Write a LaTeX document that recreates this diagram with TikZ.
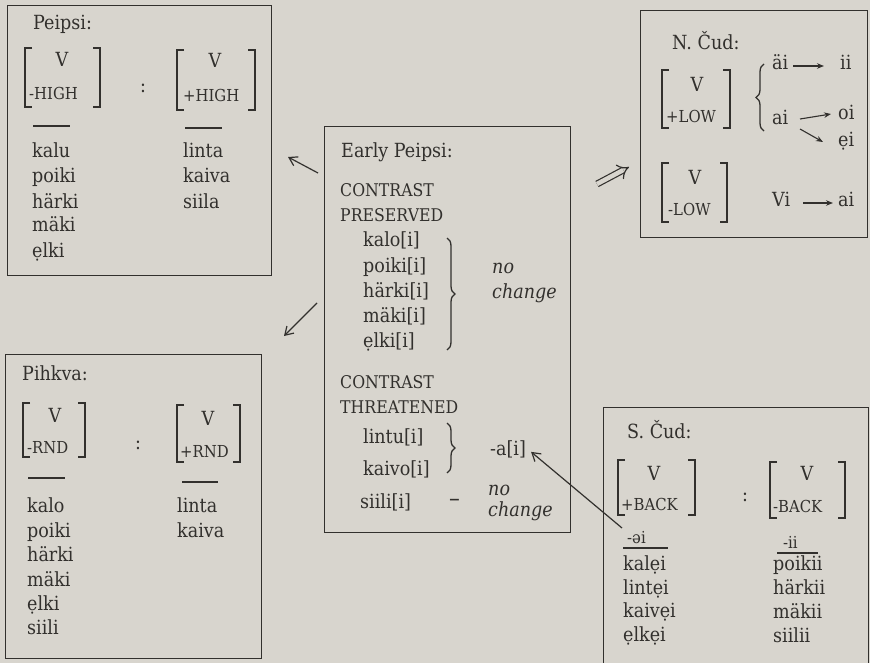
\documentclass[tikz,border=0pt]{standalone}
\usepackage{fontspec}
\setmainfont{DejaVu Serif}[FakeStretch=0.9]
\usetikzlibrary{arrows.meta,decorations.pathreplacing,calc}
\definecolor{paper}{RGB}{216,213,206}
\definecolor{ink}{RGB}{50,48,45}
\newcommand{\ed}{ẹ}
\tikzset{
  wd/.style={anchor=base west, inner sep=0pt, text=ink, font=\fontsize{19.5}{24}\selectfont},
  capt/.style={anchor=base west, inner sep=0pt, text=ink, font=\fontsize{17.5}{20}\selectfont},
  feat/.style={anchor=base west, inner sep=0pt, text=ink, font=\fontsize{16.5}{20}\selectfont},
  vv/.style={anchor=base, inner sep=0pt, text=ink, font=\fontsize{19.5}{24}\selectfont},
  itx/.style={anchor=base west, inner sep=0pt, text=ink, font=\fontsize{19.5}{24}\selectfont\itshape},
  box/.style={draw=ink, line width=1.3pt, anchor=north west, inner sep=0pt},
  brk/.style={draw=ink, line width=1.5pt},
  bar/.style={draw=ink, line width=1.4pt},
  arr/.style={draw=ink, line width=1.2pt, -{Straight Barb[length=8pt,width=10pt]}},
  sarr/.style={draw=ink, line width=1.1pt, -{Stealth[length=7pt,width=5.5pt]}},
  brc/.style={draw=ink, line width=1.3pt, decorate, decoration={brace, amplitude=8pt}}
}
\begin{document}
\begin{tikzpicture}[x=1pt, y=-1pt]
\useasboundingbox (0,0) rectangle (870,663);
\fill[paper] (0,0) rectangle (870,663);
\clip (0,0) rectangle (870,663);

% ---------- boxes ----------
\node[box, minimum width=264pt, minimum height=270pt] (peipsi) at (7,5) {};
\node[box, minimum width=227pt, minimum height=227pt] (nchud) at (640,10) {};
\node[box, minimum width=246pt, minimum height=406pt] (early) at (324,126) {};
\node[box, minimum width=256pt, minimum height=304pt] (pihkva) at (5,354) {};
\node[box, minimum width=265pt, minimum height=300pt] (schud) at (603,407) {};

% ---------- Peipsi ----------
\node[wd] (p-title) at (33,30) {Peipsi:};
\draw[brk] (32,48) -- (25,48) -- (25,107) -- (32,107);
\draw[brk] (93,48) -- (100,48) -- (100,107) -- (93,107);
\node[vv] (p-v1) at (62,67) {V};
\node[feat] (p-f1) at (29,100) {-HIGH};
\node[vv] (p-colon) at (143,93) {:};
\draw[brk] (184,50) -- (177,50) -- (177,110) -- (184,110);
\draw[brk] (248,50) -- (255,50) -- (255,110) -- (248,110);
\node[vv] (p-v2) at (215,68) {V};
\node[feat] (p-f2) at (183,102) {+HIGH};
\draw[bar] (33,126) -- (70,126);
\draw[bar] (185,128) -- (222,128);
\node[wd] (p-l1) at (32,158) {kalu};
\node[wd] (p-l2) at (32,183) {poiki};
\node[wd] (p-l3) at (32,208) {härki};
\node[wd] (p-l4) at (32,232) {mäki};
\node[wd] (p-l5) at (32,257) {\ed lki};
\node[wd] (p-r1) at (183,158) {linta};
\node[wd] (p-r2) at (183,183) {kaiva};
\node[wd] (p-r3) at (183,208) {siila};

% ---------- N. Cud ----------
\node[wd] (n-title) at (672,50) {N. Čud:};
\draw[brk] (669,70) -- (662,70) -- (662,128) -- (669,128);
\draw[brk] (723,70) -- (730,70) -- (730,128) -- (723,128);
\node[vv] (n-v1) at (697,92) {V};
\node[feat] (n-f1) at (666,123) {+LOW};
\draw[brc] (764,131) -- (764,64);
\node[wd] (n-a1) at (772,70) {äi};
\node[wd] (n-b1) at (840,70) {ii};
\node[wd] (n-a2) at (772,125) {ai};
\node[wd] (n-b2) at (838,120) {oi};
\node[wd] (n-b3) at (838,147) {\ed i};
\coordinate (n-s1) at (793,66);
\coordinate (n-e1) at (824,66);
\draw[sarr] (n-s1) -- (n-e1);
\coordinate (n-s2) at (800,119);
\coordinate (n-e2) at (831,114);
\draw[sarr] (n-s2) -- (n-e2);
\coordinate (n-s3) at (800,129);
\coordinate (n-e3) at (823,142);
\draw[sarr] (n-s3) -- (n-e3);
\draw[brk] (669,163) -- (662,163) -- (662,222) -- (669,222);
\draw[brk] (720,163) -- (727,163) -- (727,222) -- (720,222);
\node[vv] (n-v2) at (695,185) {V};
\node[feat] (n-f2) at (668,215) {-LOW};
\node[wd] (n-c1) at (772,207) {Vi};
\node[wd] (n-c2) at (838,207) {ai};
\coordinate (n-s4) at (803,203);
\coordinate (n-e4) at (833,203);
\draw[sarr] (n-s4) -- (n-e4);

% ---------- Early Peipsi ----------
\node[wd] (e-title) at (341,158) {Early Peipsi:};
\node[capt] (e-c1) at (340,197) {CONTRAST};
\node[capt] (e-c2) at (340,222) {PRESERVED};
\node[wd] (e-w1) at (363,247) {kalo[i]};
\node[wd] (e-w2) at (363,272) {poiki[i]};
\node[wd] (e-w3) at (363,297) {härki[i]};
\node[wd] (e-w4) at (363,322) {mäki[i]};
\node[wd] (e-w5) at (363,347) {\ed lki[i]};
\draw[brc] (447,238) -- (447,350);
\node[itx] (e-nc1) at (492,273) {no};
\node[itx] (e-nc2) at (492,298) {change};
\node[capt] (e-c3) at (340,388) {CONTRAST};
\node[capt] (e-c4) at (340,413) {THREATENED};
\node[wd] (e-w6) at (363,443) {lintu[i]};
\node[wd] (e-w7) at (363,475) {kaivo[i]};
\draw[brc] (447,423) -- (447,473);
\node[wd] (e-ai) at (490,455) {-a[i]};
\node[wd] (e-w8) at (360,508) {siili[i]};
\node[wd, font=\fontsize{24}{24}\selectfont] (e-dash) at (449,506) {–};
\node[itx] (e-nc3) at (488,495) {no};
\node[itx] (e-nc4) at (488,516) {change};

% ---------- Pihkva ----------
\node[wd] (k-title) at (22,380) {Pihkva:};
\draw[brk] (30,403) -- (23,403) -- (23,457) -- (30,457);
\draw[brk] (78,403) -- (85,403) -- (85,457) -- (78,457);
\node[vv] (k-v1) at (55,422) {V};
\node[feat] (k-f1) at (27,453) {-RND};
\node[vv] (k-colon) at (138,449) {:};
\draw[brk] (184,405) -- (177,405) -- (177,462) -- (184,462);
\draw[brk] (233,405) -- (240,405) -- (240,462) -- (233,462);
\node[vv] (k-v2) at (208,425) {V};
\node[feat] (k-f2) at (180,457) {+RND};
\draw[bar] (28,478) -- (65,478);
\draw[bar] (182,482) -- (218,482);
\node[wd] (k-l1) at (27,512) {kalo};
\node[wd] (k-l2) at (27,537) {poiki};
\node[wd] (k-l3) at (27,561) {härki};
\node[wd] (k-l4) at (27,586) {mäki};
\node[wd] (k-l5) at (27,610) {\ed lki};
\node[wd] (k-l6) at (27,634) {siili};
\node[wd] (k-r1) at (177,512) {linta};
\node[wd] (k-r2) at (177,537) {kaiva};

% ---------- S. Cud ----------
\node[wd] (s-title) at (627,438) {S. Čud:};
\draw[brk] (625,460) -- (618,460) -- (618,515) -- (625,515);
\draw[brk] (688,460) -- (695,460) -- (695,515) -- (688,515);
\node[vv] (s-v1) at (654,480) {V};
\node[feat] (s-f1) at (621,510) {+BACK};
\node[vv] (s-colon) at (745,501) {:};
\draw[brk] (777,462) -- (770,462) -- (770,518) -- (777,518);
\draw[brk] (838,462) -- (845,462) -- (845,518) -- (838,518);
\node[vv] (s-v2) at (807,480) {V};
\node[feat] (s-f2) at (773,512) {-BACK};
\node[feat] (s-h1) at (627,543) {-əi};
\node[feat] (s-h2) at (783,548) {-ii};
\draw[bar] (623,548) -- (668,548);
\draw[bar] (777,553) -- (818,553);
\node[wd] (s-l1) at (623,570) {kal\ed i};
\node[wd] (s-l2) at (623,594) {lint\ed i};
\node[wd] (s-l3) at (623,617) {kaiv\ed i};
\node[wd] (s-l4) at (623,641) {\ed lk\ed i};
\node[wd] (s-r1) at (773,570) {poikii};
\node[wd] (s-r2) at (773,594) {härkii};
\node[wd] (s-r3) at (773,618) {mäkii};
\node[wd] (s-r4) at (773,642) {siilii};

% ---------- connectors between boxes ----------
\coordinate (a1s) at (318,173);
\coordinate (a1e) at (288,157);
\draw[arr] (a1s) -- (a1e);
\coordinate (a2s) at (317,303);
\coordinate (a2e) at (284,336);
\draw[arr] (a2s) -- (a2e);
\coordinate (a3s) at (597,184);
\coordinate (a3e) at (629,167);
\draw[ink, double=paper, double distance=4.5pt, line width=1.2pt, -{Implies[length=9pt]}] (a3s) -- (a3e);
\coordinate (a4s) at (622,528);
\coordinate (a4e) at ($(e-ai.east)+(5,3)$);
\draw[arr] (a4s) -- (a4e);
\end{tikzpicture}
\end{document}
